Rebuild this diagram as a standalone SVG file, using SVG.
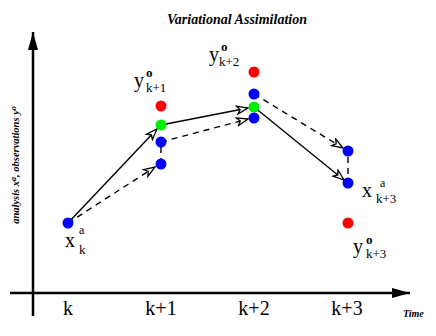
<svg xmlns="http://www.w3.org/2000/svg" width="436" height="336" viewBox="0 0 436 336">
<defs>
<style>
.ser{font-family:"Liberation Serif","DejaVu Serif",serif;fill:#000}
.big{font-size:20px}
.sub{font-size:13px}
.sup{font-size:12px}
.supb{font-size:13px;font-weight:bold}
.bi{font-style:italic;font-weight:bold}
.con{stroke:#000;stroke-width:1.4;fill:none}
.dash{stroke-dasharray:6,5}
.ax{stroke:#000;stroke-width:2.5;fill:none}
.b{fill:#0000ff}
.r{fill:#ff0000}
.g{fill:#00ee00}
</style>
<marker id="arr" markerWidth="14" markerHeight="10" refX="12" refY="5" orient="auto" markerUnits="userSpaceOnUse">
<path d="M1,1 L12,5 L1,9 L4,5 Z" fill="#fff" stroke="#000" stroke-width="1.3" stroke-linejoin="miter"/>
</marker>
<marker id="axarr" markerWidth="20" markerHeight="12" refX="18" refY="6" orient="auto" markerUnits="userSpaceOnUse">
<path d="M0,1 L18,6 L0,11 Z" fill="#000"/>
</marker>
</defs>
<rect width="436" height="336" fill="#fff"/>

<g id="axes">
<line class="ax" x1="33" y1="316" x2="33" y2="32" marker-end="url(#axarr)"/>
<line class="ax" x1="10" y1="293" x2="410" y2="293" marker-end="url(#axarr)"/>
</g>

<g id="connectors">
<line class="con" x1="68" y1="223" x2="157" y2="129" marker-end="url(#arr)"/>
<line class="con dash" x1="68" y1="223" x2="155" y2="167" marker-end="url(#arr)"/>
<line class="con" x1="161" y1="125" x2="248" y2="108" marker-end="url(#arr)"/>
<line class="con dash" x1="161" y1="142" x2="248" y2="119" marker-end="url(#arr)"/>
<line class="con dash" x1="161" y1="147" x2="161" y2="160"/>
<line class="con" x1="254" y1="107" x2="344" y2="180" marker-end="url(#arr)"/>
<line class="con dash" x1="254" y1="94" x2="343" y2="148" marker-end="url(#arr)"/>
<line class="con dash" x1="348" y1="157" x2="348" y2="178"/>
</g>

<g id="pt-xk"><circle class="b" cx="68" cy="223" r="5.5"/></g>
<g id="pt-k1-obs"><circle class="r" cx="161" cy="106" r="5.5"/></g>
<g id="pt-k1-green"><circle class="g" cx="161" cy="125" r="5.5"/></g>
<g id="pt-k1-blue1"><circle class="b" cx="161" cy="142" r="5.5"/></g>
<g id="pt-k1-blue2"><circle class="b" cx="161" cy="164" r="5.5"/></g>
<g id="pt-k2-obs"><circle class="r" cx="254" cy="72" r="5.5"/></g>
<g id="pt-k2-blue1"><circle class="b" cx="254" cy="94" r="5.5"/></g>
<g id="pt-k2-green"><circle class="g" cx="254" cy="107" r="5.5"/></g>
<g id="pt-k2-blue2"><circle class="b" cx="254" cy="118" r="5.5"/></g>
<g id="pt-k3-blue1"><circle class="b" cx="348" cy="151" r="5.5"/></g>
<g id="pt-k3-blue2"><circle class="b" cx="348" cy="183" r="5.5"/></g>
<g id="pt-k3-obs"><circle class="r" cx="348" cy="223" r="5.5"/></g>

<g id="labels" font-family="'Liberation Serif', 'DejaVu Serif', serif">
<text class="ser bi" x="237" y="24" font-size="14" text-anchor="middle">Variational Assimilation</text>
<text class="ser bi" font-size="10.5" text-anchor="middle" transform="translate(19,165) rotate(-90)">analysis x<tspan font-size="8" dy="-3">a</tspan><tspan dy="3">, observations y</tspan><tspan font-size="8" dy="-3">o</tspan></text>
<text class="ser bi" x="403" y="317" font-size="10">Time</text>

<text class="ser big" x="68" y="315" text-anchor="middle">k</text>
<text class="ser big" x="161" y="315" text-anchor="middle">k+1</text>
<text class="ser big" x="254" y="315" text-anchor="middle">k+2</text>
<text class="ser big" x="347" y="315" text-anchor="middle">k+3</text>

<text class="ser big" x="65" y="247">x</text>
<text class="ser sup" x="79" y="234">a</text>
<text class="ser sub" x="79" y="254">k</text>

<text class="ser big" x="134" y="87">y</text>
<text class="ser supb" x="146" y="77">o</text>
<text class="ser sub" x="146" y="92">k+1</text>

<text class="ser big" x="209" y="61">y</text>
<text class="ser supb" x="221" y="51">o</text>
<text class="ser sub" x="219" y="66">k+2</text>

<text class="ser big" x="362" y="197">x</text>
<text class="ser sup" x="380" y="187">a</text>
<text class="ser sub" x="376" y="203">k+3</text>

<text class="ser big" x="353" y="253">y</text>
<text class="ser supb" x="366" y="244">o</text>
<text class="ser sub" x="366" y="258">k+3</text>
</g>
</svg>
